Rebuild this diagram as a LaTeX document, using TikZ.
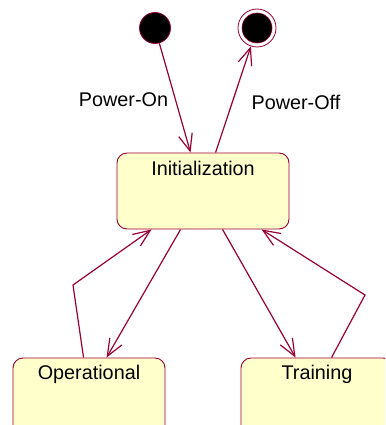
\documentclass[tikz,border=0pt]{standalone}
\usepackage{fontspec}
\setmainfont{Liberation Sans}
\usetikzlibrary{arrows.meta,calc}
\definecolor{linec}{RGB}{153,0,51}
\definecolor{statefill}{RGB}{255,255,204}
\tikzset{
  statebox/.style={draw=linec, fill=statefill, line width=0.9pt, rounded corners=10pt,
    minimum width=152pt, minimum height=77pt, inner sep=0pt},
  stlabel/.style={font=\fontsize{19.8}{23}\selectfont, text=black},
  initdot/.style={circle, fill=black, draw=linec, line width=0.8pt, minimum size=31pt, inner sep=0pt},
  finring/.style={circle, fill=white, draw=linec, line width=0.8pt, minimum size=38pt, inner sep=0pt},
  findot/.style={circle, fill=black, draw=linec, line width=0.6pt, minimum size=30pt, inner sep=0pt},
  conn/.style={draw=linec, line width=1.2pt, -{Straight Barb[length=17pt,width=14pt,line width=1.2pt]}},
}
\begin{document}
\begin{tikzpicture}[x=1pt,y=-1pt]
\useasboundingbox (0,0) rectangle (385,425);
\clip (0,0) rectangle (385,425);
% states
\node[statebox, minimum width=172pt, minimum height=76pt] (init) at (203,191) {};
\node[stlabel] (initt) at ($(init.north)+(0,16)$) {Initialization};
\node[statebox] (op) at (89,396.5) {};
\node[stlabel] (opt) at ($(op.north)+(0,16.5)$) {Operational};
\node[statebox] (tr) at (317,396.5) {};
\node[stlabel] (trt) at ($(tr.north)+(0,16.5)$) {Training};
% pseudo states
\node[initdot] (start) at (155,28) {};
\node[finring] (end) at (257,28) {};
\node[findot] (endin) at (end) {};
% connectors
\draw[conn] (start) -- ($(init.north west)+(74,0)$);
\draw[conn] ($(init.north west)+(99,0)$) -- (end);
\node[stlabel] (pon) at (123.5,100) {Power-On};
\node[stlabel] (poff) at (296,102) {Power-Off};
\draw[conn] ($(init.south west)+(64,0)$) -- ($(op.north west)+(94,0)$);
\coordinate (bendL) at (73,285);
\draw[conn] ($(op.north west)+(71,0)$) -- (bendL) -- ($(init.south west)+(35,0)$);
\draw[conn] ($(init.south west)+(106,0)$) -- ($(tr.north west)+(55,0)$);
\coordinate (bendR) at (365,295);
\draw[conn] ($(tr.north west)+(91,0)$) -- (bendR) -- ($(init.south west)+(145,0)$);
\end{tikzpicture}
\end{document}
